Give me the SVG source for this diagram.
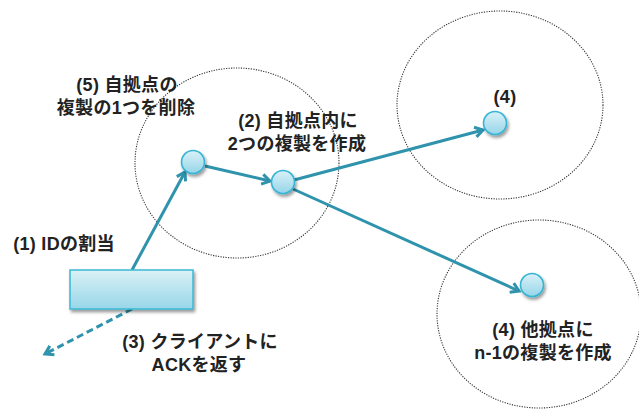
<svg xmlns="http://www.w3.org/2000/svg" width="639" height="410" viewBox="0 0 639 410">
<style>
.zone{fill:none;stroke:#333;stroke-width:1.1;stroke-dasharray:1.2 1.3}
.node{fill:url(#ng);stroke:#36b4d3;stroke-width:1.6;filter:url(#sh)}
.edge{fill:none;stroke:#2f93ad;stroke-width:3}
.dash{stroke-dasharray:7 4}
.lbl{font-family:"Liberation Sans","Noto Sans CJK JP",sans-serif;font-size:18px;font-weight:bold;fill:#222;text-anchor:middle;letter-spacing:0.3px}
</style>
<defs>
<linearGradient id="ng" x1="0" y1="0" x2="0" y2="1"><stop offset="0" stop-color="#d9f1f8"/><stop offset="1" stop-color="#96d5e8"/></linearGradient>
<linearGradient id="rg" x1="0" y1="0" x2="0" y2="1"><stop offset="0" stop-color="#daf1f6"/><stop offset="1" stop-color="#98d6e9"/></linearGradient>
<filter id="sh" x="-50%" y="-50%" width="200%" height="200%"><feDropShadow dx="1.5" dy="2.5" stdDeviation="1.5" flood-color="#000" flood-opacity="0.4"/></filter>
<marker id="ah" markerWidth="10" markerHeight="10" refX="8" refY="5" orient="auto" markerUnits="userSpaceOnUse" viewBox="0 0 10 10" overflow="visible">
<path d="M0,0 L8,5 L0,10" fill="none" stroke="#2f93ad" stroke-width="3" stroke-linejoin="miter"/>
</marker>
</defs>
<g id="zones">
<ellipse class="zone" cx="237" cy="163" rx="102" ry="95"/>
<ellipse class="zone" cx="500" cy="105" rx="103" ry="94"/>
<ellipse class="zone" cx="539" cy="314" rx="102" ry="94"/>
</g>
<g id="connectors">
<line class="edge" x1="132" y1="270" x2="185" y2="172" marker-end="url(#ah)"/>
<line class="edge" x1="205" y1="166" x2="270" y2="181" marker-end="url(#ah)"/>
<line class="edge" x1="294" y1="180" x2="483" y2="130" marker-end="url(#ah)"/>
<line class="edge" x1="293" y1="189" x2="519" y2="291" marker-end="url(#ah)"/>
<line class="edge dash" x1="132" y1="309" x2="45" y2="354" marker-end="url(#ah)"/>
</g>
<g id="client-box"><rect x="70" y="270" width="123" height="39" fill="url(#rg)" stroke="#3bb8d4" stroke-width="1.5" filter="url(#sh)"/></g>
<g id="node-a"><circle class="node" cx="193" cy="162" r="11.5"/></g>
<g id="node-b"><circle class="node" cx="283" cy="182" r="11.5"/></g>
<g id="node-c"><circle class="node" cx="495" cy="123" r="11.5"/></g>
<g id="node-d"><circle class="node" cx="532" cy="285" r="11.5"/></g>
<g id="labels">
<text class="lbl" y="91"><tspan x="127">(5) 自拠点の</tspan><tspan x="126" dy="23">複製の1つを削除</tspan></text>
<text class="lbl" y="127"><tspan x="298">(2) 自拠点内に</tspan><tspan x="297" dy="23">2つの複製を作成</tspan></text>
<text class="lbl" x="505" y="103">(4)</text>
<text class="lbl" y="336"><tspan x="543">(4) 他拠点に</tspan><tspan x="543" dy="23">n-1の複製を作成</tspan></text>
<text class="lbl" x="64" y="250">(1) IDの割当</text>
<text class="lbl" y="348"><tspan x="200">(3) クライアントに</tspan><tspan x="199" dy="23">ACKを返す</tspan></text>
</g>
</svg>
